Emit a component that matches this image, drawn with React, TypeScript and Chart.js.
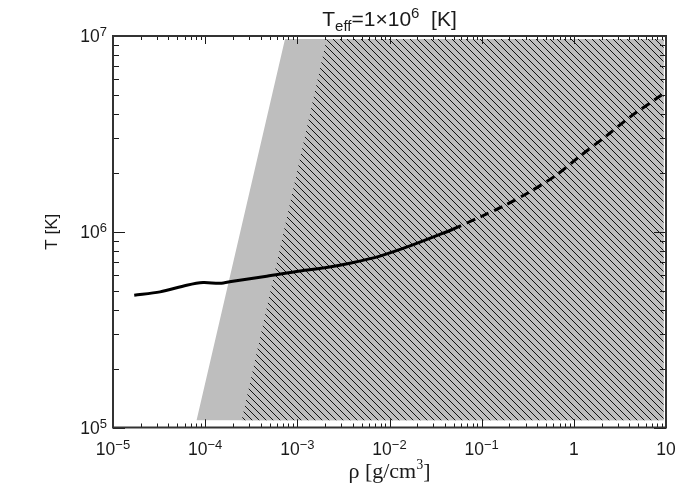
import React, { useEffect, useRef } from "react";
import { Chart, registerables } from "chart.js";

Chart.register(...registerables);

// ---- data ----
const rhoSolid = [1.7e-5, 3.24e-5, 6.3e-5, 9.5e-5, 1.45e-4, 2.0e-4, 4.65e-4, 1.07e-3, 1.99e-3, 3.72e-3, 7.87e-3, 1.88e-2, 4.9e-2];
const tSolid = [4.74e5, 4.93e5, 5.33e5, 5.5e5, 5.45e5, 5.59e5, 5.93e5, 6.31e5, 6.55e5, 6.91e5, 7.51e5, 8.64e5, 1.03e6];

const rhoDashed = [4.9e-2, 0.1, 0.171, 0.333, 0.649, 1.16, 2.26, 4.05, 7.88, 10];
const tDashed = [1.03e6, 1.2e6, 1.35e6, 1.6e6, 1.95e6, 2.43e6, 3.09e6, 3.85e6, 4.79e6, 5.18e6];

const grayRho = [8.07e-5, 7.35e-4, 9.4, 9.4];
const grayT = [1.09e5, 9.65e6, 9.65e6, 1.09e5];

const hatchRho = [2.49e-4, 2.08e-3, 9.4, 9.4];
const hatchT = [1.09e5, 9.65e6, 9.65e6, 1.09e5];

const xMin = 1e-5;
const xMax = 10;
const yMin = 1e5;
const yMax = 1e7;

const xTickValues = [1e-5, 1e-4, 1e-3, 1e-2, 1e-1, 1, 10];
const xTickBase = ["10", "10", "10", "10", "10", "1", "10"];
const xTickSup = ["−5", "−4", "−3", "−2", "−1", "", ""];

const yTickValues = [1e5, 1e6, 1e7];
const yTickBase = ["10", "10", "10"];
const yTickSup = ["5", "6", "7"];

const SANS = '"Liberation Sans", "DejaVu Sans", sans-serif';
const SERIF = '"Liberation Serif", "DejaVu Serif", serif';
const INK = "#1a1a1a";

type Part = { t: string; size: number; dy: number; font: string };

function drawParts(ctx: CanvasRenderingContext2D, parts: Part[], x: number, y: number, align: "left" | "center" | "right") {
  let total = 0;
  const widths = parts.map((p) => {
    ctx.font = `${p.size}px ${p.font}`;
    const w = ctx.measureText(p.t).width;
    total += w;
    return w;
  });
  let cx = align === "left" ? x : align === "center" ? x - total / 2 : x - total;
  ctx.textAlign = "left";
  ctx.textBaseline = "alphabetic";
  parts.forEach((p, i) => {
    ctx.font = `${p.size}px ${p.font}`;
    ctx.fillText(p.t, cx, y + p.dy);
    cx += widths[i];
  });
}

function makeHatch(): CanvasPattern | string {
  const s = 7;
  const c = document.createElement("canvas");
  c.width = s;
  c.height = s;
  const g = c.getContext("2d");
  if (!g) return "#bebebe";
  g.fillStyle = "#bebebe";
  g.fillRect(0, 0, s, s);
  g.strokeStyle = "#111";
  g.lineWidth = 1;
  g.beginPath();
  g.moveTo(0, 0);
  g.lineTo(s, s);
  g.moveTo(-1, s - 1);
  g.lineTo(1, s + 1);
  g.moveTo(s - 1, -1);
  g.lineTo(s + 1, 1);
  g.stroke();
  const p = g.createPattern(c, "repeat");
  return p || "#bebebe";
}

const idlAxes = {
  id: "idlAxes",
  afterDraw(chart: any) {
    const ctx: CanvasRenderingContext2D = chart.ctx;
    const { left, right, top, bottom } = chart.chartArea;
    const xs = chart.scales.x;
    const ys = chart.scales.y;
    ctx.save();

    // minor / major ticks pointing inward on all four sides
    ctx.strokeStyle = INK;
    ctx.lineWidth = 1;
    ctx.beginPath();
    for (let e = -5; e <= 0; e++) {
      for (let m = 1; m <= 10; m++) {
        const v = m * Math.pow(10, e);
        const px = Math.round(xs.getPixelForValue(v)) + 0.5;
        const len = m === 1 || m === 10 ? 8 : 4;
        ctx.moveTo(px, bottom);
        ctx.lineTo(px, bottom - len);
        ctx.moveTo(px, top);
        ctx.lineTo(px, top + len);
      }
    }
    for (let e = 5; e <= 6; e++) {
      for (let m = 1; m <= 10; m++) {
        const v = m * Math.pow(10, e);
        const py = Math.round(ys.getPixelForValue(v)) + 0.5;
        const len = m === 1 || m === 10 ? 12 : 6;
        ctx.moveTo(left, py);
        ctx.lineTo(left + len, py);
        ctx.moveTo(right, py);
        ctx.lineTo(right - len, py);
      }
    }
    ctx.stroke();

    // frame
    ctx.lineWidth = 2;
    ctx.strokeStyle = "#333";
    ctx.strokeRect(left, top, right - left, bottom - top);

    // tick labels
    ctx.fillStyle = INK;
    xTickValues.forEach((v, i) => {
      const px = xs.getPixelForValue(v);
      const parts: Part[] = [{ t: xTickBase[i], size: 17.5, dy: 0, font: SANS }];
      if (xTickSup[i]) parts.push({ t: xTickSup[i], size: 13, dy: -6, font: SANS });
      drawParts(ctx, parts, px, bottom + 27.5, "center");
    });
    yTickValues.forEach((v, i) => {
      const py = ys.getPixelForValue(v);
      drawParts(
        ctx,
        [
          { t: yTickBase[i], size: 17.5, dy: 0, font: SANS },
          { t: yTickSup[i], size: 13, dy: -6, font: SANS },
        ],
        left - 6,
        py + 6,
        "right"
      );
    });

    // title
    drawParts(
      ctx,
      [
        { t: "T", size: 21, dy: 0, font: SANS },
        { t: "eff", size: 15, dy: 5, font: SANS },
        { t: "=1×10", size: 21, dy: 0, font: SANS },
        { t: "6", size: 15, dy: -8, font: SANS },
        { t: "  [K]", size: 21, dy: 0, font: SANS },
      ],
      (left + right) / 2,
      26,
      "center"
    );

    // x axis title
    drawParts(
      ctx,
      [
        { t: "ρ [g/cm", size: 22, dy: 0, font: SERIF },
        { t: "3", size: 14, dy: -9, font: SERIF },
        { t: "]", size: 22, dy: 0, font: SERIF },
      ],
      (left + right) / 2,
      478,
      "center"
    );

    // y axis title
    ctx.save();
    ctx.translate(57, (top + bottom) / 2);
    ctx.rotate(-Math.PI / 2);
    drawParts(ctx, [{ t: "T [K]", size: 17, dy: 0, font: SANS }], 0, 0, "center");
    ctx.restore();

    ctx.restore();
  },
};

function pts(xs: number[], ys: number[]) {
  return xs.map((x, i) => ({ x, y: ys[i] }));
}

export default function App() {
  const ref = useRef<HTMLCanvasElement>(null);
  useEffect(() => {
    const canvas = ref.current;
    if (!canvas) return;
    const hatch = makeHatch();
    const chart = new Chart(canvas, {
      type: "scatter",
      data: {
        datasets: [
          {
            label: "solid",
            data: pts(rhoSolid, tSolid),
            showLine: true,
            borderColor: "#000",
            borderWidth: 3,
            pointRadius: 0,
            tension: 0.3,
            fill: false,
            order: 0,
          },
          {
            label: "dashed",
            data: pts(rhoDashed, tDashed),
            showLine: true,
            borderColor: "#000",
            borderWidth: 3,
            borderDash: [9, 6],
            pointRadius: 0,
            tension: 0.3,
            fill: false,
            order: 0,
          },
          {
            label: "hatch",
            data: pts(hatchRho, hatchT),
            showLine: true,
            borderWidth: 0,
            borderColor: "rgba(0,0,0,0)",
            backgroundColor: hatch as any,
            pointRadius: 0,
            fill: "shape",
            order: 1,
          },
          {
            label: "gray",
            data: pts(grayRho, grayT),
            showLine: true,
            borderWidth: 0,
            borderColor: "rgba(0,0,0,0)",
            backgroundColor: "#bebebe",
            pointRadius: 0,
            fill: "shape",
            order: 2,
          },
        ],
      },
      options: {
        responsive: false,
        animation: false,
        devicePixelRatio: 1,
        layout: { padding: { left: 113, right: 34, top: 36, bottom: 72.5 } },
        plugins: {
          legend: { display: false },
          tooltip: { enabled: false },
          title: { display: false },
        },
        scales: {
          x: { type: "logarithmic", min: xMin, max: xMax, display: false },
          y: { type: "logarithmic", min: yMin, max: yMax, display: false },
        },
      } as any,
      plugins: [idlAxes],
    });
    return () => chart.destroy();
  }, []);
  return (
    <div style={{ position: "fixed", left: 0, top: 0, width: 700, height: 500, background: "#fff" }}>
      <canvas ref={ref} width={700} height={500} style={{ display: "block" }} />
    </div>
  );
}
